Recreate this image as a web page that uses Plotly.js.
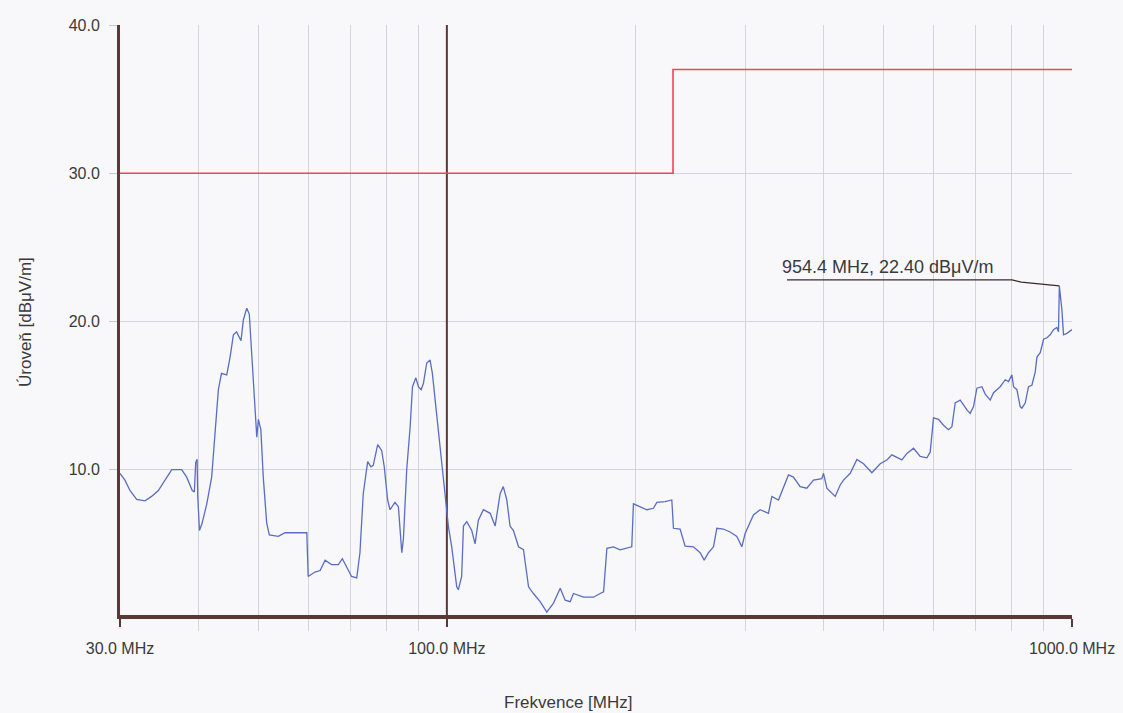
<!DOCTYPE html>
<html>
<head>
<meta charset="utf-8">
<script src="https://cdn.plot.ly/plotly-3.0.1.min.js"></script>
<style>
html,body{margin:0;padding:0;background:#f8f8fa;}
#chart{width:1123px;height:713px;}
</style>
</head>
<body>
<div id="chart"></div>
<script>
// Measured spectrum (MHz, dBµV/m)
var freq = [30.0,30.55,31.12,31.9,32.9,33.7,34.55,35.4,36.3,37.65,38.35,39.15,39.45,39.65,39.85,39.95,40.2,40.6,41.3,42.05,
42.6,43.1,43.6,44.45,45.0,45.55,46.1,46.85,47.25,47.85,48.3,48.75,49.2,49.65,49.95,50.4,50.85,51.5,52.0,53.75,
55.1,59.7,60.0,61.5,62.7,63.85,65.4,67.05,68.05,69.15,70.4,71.75,72.6,73.5,74.7,75.6,76.25,77.5,78.65,79.4,
80.4,81.1,82.6,83.65,84.7,85.2,86.25,87.35,88.1,89.2,90.05,90.95,91.7,92.85,94.0,94.8,96.3,97.5,98.7,99.7,
100.55,101.8,103.1,103.7,104.3,105.6,106.3,107.6,109.6,110.95,112.3,114.4,117.3,119.45,121.7,123.1,124.7,126.2,127.8,130.2,
132.6,135.1,137.55,141.0,144.5,148.1,151.8,154.6,157.5,159.4,165.4,171.6,175.9,178.1,180.3,184.7,189.3,197.6,198.8,203.8,
208.9,214.0,216.7,223.4,229.0,230.4,236.1,240.5,248.0,254.2,258.0,262.1,267.0,270.3,277.0,283.9,291.0,296.4,300.0,309.3,
317.0,326.9,331.0,339.2,345.5,351.9,358.4,367.4,376.5,385.9,398.0,400.4,405.4,418.0,425.8,431.0,441.8,452.8,464.0,478.5,
493.4,505.7,515.1,524.7,534.4,544.4,557.8,571.7,586.0,593.2,600.4,611.6,623.0,634.6,642.5,650.4,662.5,679.0,687.3,695.8,
704.5,717.6,726.4,739.9,749.0,767.6,781.9,791.5,801.4,806.2,816.3,826.3,831.5,841.7,852.0,862.7,873.4,878.8,889.6,900.6,
911.9,922.7,934.1,945.8,951.5,954.4,963.4,969.2,981.3,1000.0];
var level = [9.76,9.3,8.6,8.0,7.9,8.2,8.6,9.3,10.0,10.0,9.5,8.6,8.5,10.5,10.7,8.2,5.9,6.4,7.7,9.5,
12.7,15.4,16.5,16.4,17.6,19.1,19.3,18.7,20.1,20.9,20.5,17.6,14.9,12.2,13.4,12.7,9.5,6.4,5.6,5.5,
5.75,5.75,2.8,3.1,3.2,3.9,3.6,3.6,4.0,3.45,2.8,2.7,4.4,8.4,10.55,10.2,10.3,11.7,11.3,10.2,
7.96,7.3,7.8,7.5,4.4,5.3,10.0,12.9,15.6,16.2,15.6,15.4,15.8,17.2,17.4,16.5,13.8,11.6,9.8,7.7,
6.2,4.8,3.0,2.1,1.9,2.8,6.2,6.5,5.9,5.0,6.6,7.3,7.06,6.2,8.4,8.86,7.96,6.2,5.9,4.8,
4.6,2.1,1.65,1.1,0.4,1.0,2.0,1.2,1.1,1.65,1.4,1.4,1.65,1.76,4.7,4.8,4.6,4.8,7.7,7.5,
7.3,7.4,7.8,7.85,7.96,6.05,6.0,4.85,4.8,4.4,3.9,4.4,4.8,6.05,6.0,5.8,5.5,4.8,5.7,6.95,
7.3,7.06,8.2,7.96,8.86,9.65,9.5,8.86,8.75,9.3,9.4,9.76,8.75,8.2,8.97,9.3,9.76,10.7,10.4,9.8,
10.4,10.66,11.0,10.8,10.66,11.1,11.45,10.9,10.8,11.2,13.5,13.4,13.0,12.7,12.9,14.5,14.7,14.04,13.8,14.26,
15.5,15.6,15.1,14.7,15.2,15.6,16.07,15.95,16.4,15.6,15.4,14.26,14.15,14.5,15.6,15.7,16.6,17.6,17.9,18.8,
18.9,19.1,19.45,19.6,19.3,22.4,20.8,19.1,19.2,19.45];

// Limit line (MHz, dBµV/m)
var limitFreq = [30, 230, 230, 1000];
var limitLevel = [30, 30, 37, 37];

// Marker readout
var markerFreq = 954.4;
var markerLevel = 22.40;
var markerText = '954.4 MHz, 22.40 dBμV/m';
var leaderFreq = [350, 802, 830, 890, 940, markerFreq];
var leaderLevel = [22.8, 22.8, 22.65, 22.5, 22.4, markerLevel];

// Axis ticks
var xTickVals = [30, 100, 1000];
var xTickText = ['30.0 MHz', '100.0 MHz', '1000.0 MHz'];
var xMinorVals = [40,50,60,70,80,90,200,300,400,500,600,700,800,900];
var yTickVals = [10, 20, 30, 40];
var yTickText = ['10.0', '20.0', '30.0', '40.0'];
var yMin = 0.2, yMax = 40;

var FONT = 'Liberation Sans, Arial, sans-serif';
var AXC = '#5a3838';

var traces = [
  {x: [100, 100], y: [yMin, yMax], mode: 'lines', line: {color: AXC, width: 2}, hoverinfo: 'skip', showlegend: false},
  {x: limitFreq, y: limitLevel, mode: 'lines', line: {color: '#f0445c', width: 1.6}, showlegend: false},
  {x: freq, y: level, mode: 'lines', line: {color: '#5a6cc4', width: 1.3}, showlegend: false},
  {x: leaderFreq, y: leaderLevel, mode: 'lines', line: {color: '#3a2a2a', width: 1.3}, hoverinfo: 'skip', showlegend: false}
];

var layout = {
  width: 1123, height: 713,
  margin: {l: 120, r: 51, t: 25, b: 98},
  paper_bgcolor: '#f8f8fa',
  plot_bgcolor: '#f8f8fa',
  font: {family: FONT, size: 17, color: '#3a3a3a'},
  showlegend: false,
  xaxis: {
    type: 'log',
    range: [Math.log10(30), Math.log10(1000)],
    tickmode: 'array', tickvals: xTickVals, ticktext: xTickText,
    showgrid: true, gridcolor: '#d4d4dc', gridwidth: 1,
    ticks: 'outside', ticklen: 8, tickcolor: AXC, tickwidth: 2,
    ticklabelstandoff: 8,
    showline: true, linecolor: AXC, linewidth: 4,
    zeroline: false,
    minor: {tickmode: 'array', tickvals: xMinorVals, showgrid: true, gridcolor: '#d4d4dc', gridwidth: 1,
            ticks: 'outside', ticklen: 12, tickcolor: '#d4d4dc', tickwidth: 1},
    tickfont: {family: FONT, size: 16, color: '#3a3a3a'},
    fixedrange: true
  },
  yaxis: {
    range: [yMin, yMax],
    tickmode: 'array', tickvals: yTickVals, ticktext: yTickText,
    showgrid: true, gridcolor: '#d4d4dc', gridwidth: 1,
    ticks: 'outside', ticklen: 8, tickcolor: '#c8c8d0', tickwidth: 1,
    ticklabelstandoff: 6,
    showline: true, linecolor: AXC, linewidth: 3,
    zeroline: false,
    tickfont: {family: FONT, size: 16, color: '#3a3a3a'},
    fixedrange: true
  },
  annotations: [
    {text: 'Úroveň [dBμV/m]', xref: 'paper', yref: 'paper', x: -0.0998, y: 0.4966,
     textangle: -90, showarrow: false, xanchor: 'center', yanchor: 'middle',
     font: {family: FONT, size: 17, color: '#3a3a3a'}},
    {text: 'Frekvence [MHz]', xref: 'paper', yref: 'paper', x: 0.4706, y: -0.149,
     showarrow: false, xanchor: 'center', yanchor: 'middle',
     font: {family: FONT, size: 17, color: '#3a3a3a'}},
    {text: markerText, xref: 'paper', yref: 'paper', x: 0.6933, y: 0.5898,
     showarrow: false, xanchor: 'left', yanchor: 'middle',
     font: {family: FONT, size: 18, color: '#3a3a3a'}}
  ]
};

Plotly.newPlot('chart', traces, layout, {displayModeBar: false, staticPlot: true});
</script>
</body>
</html>
